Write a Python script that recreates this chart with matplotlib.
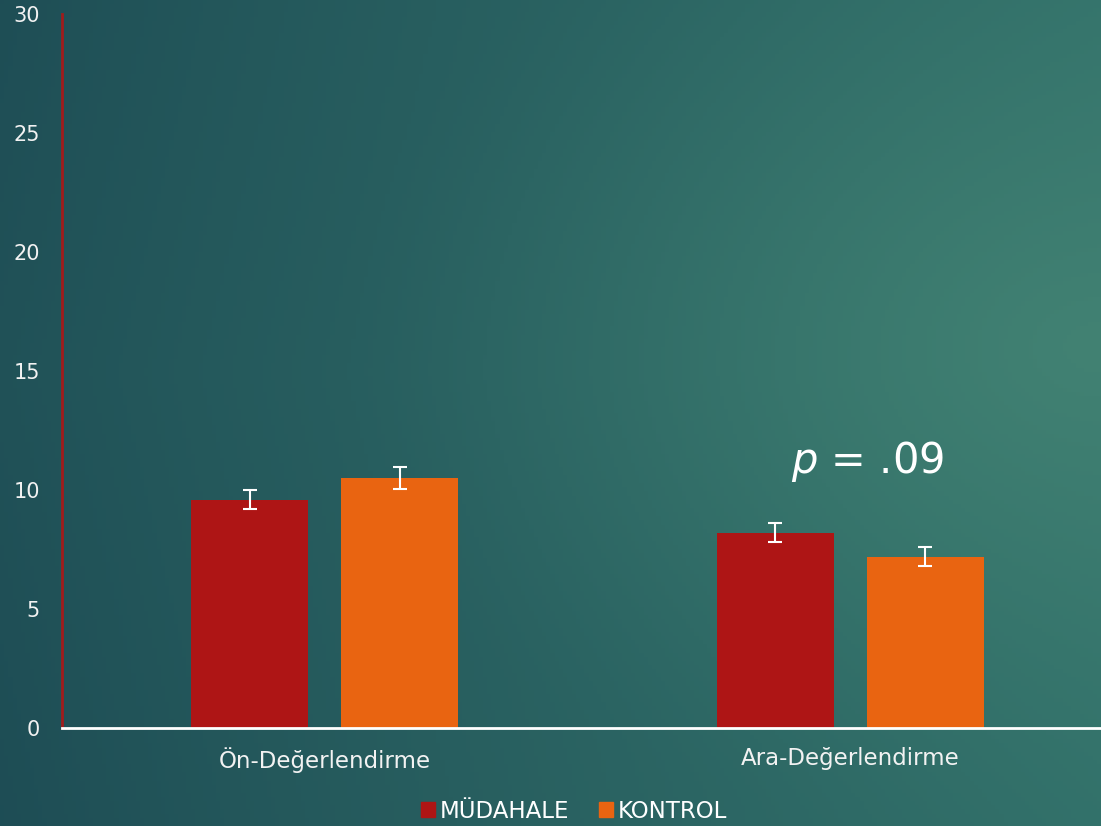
import numpy as np
import matplotlib
matplotlib.use("Agg")
import matplotlib.pyplot as plt
from matplotlib.patches import Patch

plt.rcParams['font.family'] = ['DejaVu Sans']

categories = ["Ön-Değerlendirme", "Ara-Değerlendirme"]
series_names = ["MÜDAHALE", "KONTROL"]
mudahale = [9.6, 8.2]
kontrol = [10.5, 7.2]
mudahale_err = [0.4, 0.4]
kontrol_err = [0.45, 0.4]
yticks = [0, 5, 10, 15, 20, 25, 30]

W, H = 1101, 826
fig = plt.figure(figsize=(W/100, H/100), dpi=100)

# background gradient
bg = fig.add_axes([0, 0, 1, 1], zorder=-10)
yy, xx = np.mgrid[0:1:200j, 0:1:260j]
c_left = np.array([27, 72, 82]) / 255.0
c_right = np.array([52, 116, 108]) / 255.0
c_spot = np.array([66, 130, 115]) / 255.0
lin = np.clip(xx * 0.85 + (1 - np.abs(yy - 0.45)) * 0.15, 0, 1) ** 0.8
img = c_left[None, None, :] * (1 - lin[..., None]) + c_right[None, None, :] * lin[..., None]
d = np.sqrt((xx - 1.0) ** 2 + ((yy - 0.42) * 1.1) ** 2)
s = np.clip(1 - d / 0.7, 0, 1) ** 1.5
img = img * (1 - s[..., None]) + c_spot[None, None, :] * s[..., None]
bg.imshow(img, aspect='auto', extent=[0, 1, 0, 1], origin='upper')
bg.axis('off')

ax_left = 62 / W
ax_bottom = (H - 728) / H
ax_top = (H - 14) / H
ax_right_px = 1113
ax = fig.add_axes([ax_left, ax_bottom, (ax_right_px - 62) / W, ax_top - ax_bottom])
ax.set_facecolor('none')

x = np.arange(len(categories))
w = 0.223
off = 0.1427
red = '#ae1515'
orange = '#e96411'
ax.bar(x - off, mudahale, w, color=red, zorder=2)
ax.bar(x + off, kontrol, w, color=orange, zorder=2)
ax.errorbar(x - off, mudahale, yerr=mudahale_err, fmt='none', ecolor='white',
            elinewidth=1.5, capsize=5, capthick=1.5, zorder=3)
ax.errorbar(x + off, kontrol, yerr=kontrol_err, fmt='none', ecolor='white',
            elinewidth=1.5, capsize=5, capthick=1.5, zorder=3)

ax.set_xlim(-0.5, 1.5)
ax.set_ylim(0, 30)
ax.set_yticks(yticks)
ax.set_xticks(x)
ax.set_xticklabels(categories)
ax.tick_params(axis='both', length=0, colors='#f2f2f2')
ax.tick_params(axis='y', pad=16, labelsize=15)
ax.tick_params(axis='x', pad=14, labelsize=16.5)
for s_ in ['top', 'right']:
    ax.spines[s_].set_visible(False)
ax.spines['left'].set_color('#a01c1c')
ax.spines['left'].set_linewidth(2)
ax.spines['bottom'].set_color('white')
ax.spines['bottom'].set_linewidth(2)

ax.text(1.0 + 0.033, 11.2, r"$p$ = .09", color='white', fontsize=30,
        ha='center', va='center')

handles = [Patch(color=red), Patch(color=orange)]
fig.legend(handles, series_names, loc='center', bbox_to_anchor=(574 / W, 1 - 811 / H),
           ncol=2, frameon=False, fontsize=16.5, labelcolor='white',
           handlelength=0.6, handleheight=0.6, handletextpad=0.2, columnspacing=1.3)

fig.savefig('out.png', dpi=100)
